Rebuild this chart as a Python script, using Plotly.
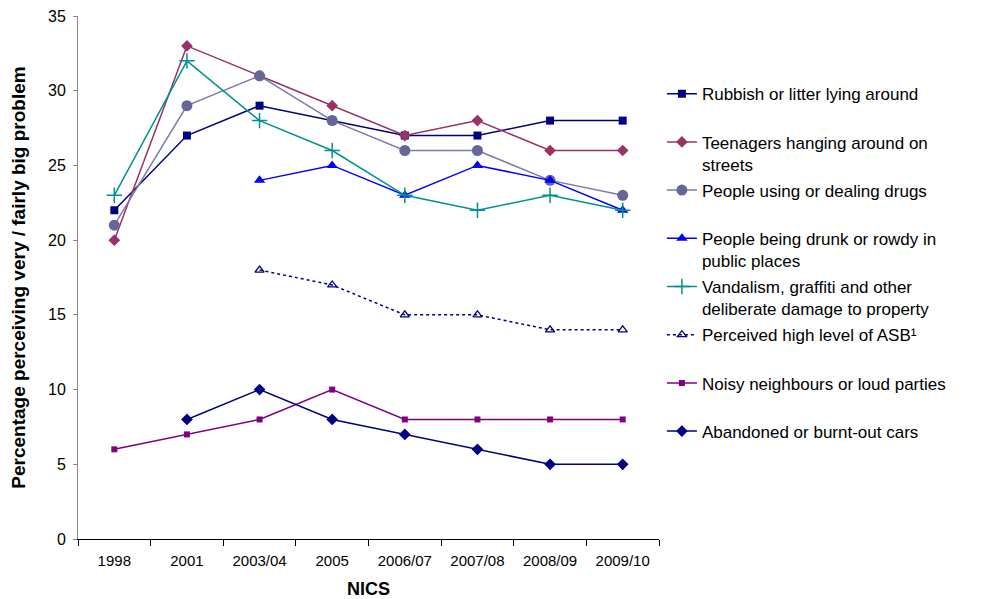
import plotly.graph_objects as go

categories = ["1998", "2001", "2003/04", "2005", "2006/07", "2007/08", "2008/09", "2009/10"]

rubbish = [22, 27, 29, 28, 27, 27, 28, 28]
teenagers = [20, 33, 31, 29, 27, 28, 26, 26]
drugs = [21, 29, 31, 28, 26, 26, 24, 23]
drunk = [None, None, 24, 25, 23, 25, 24, 22]
vandalism = [23, 32, 28, 26, 23, 22, 23, 22]
asb = [None, None, 18, 17, 15, 15, 14, 14]
noisy = [6, 7, 8, 10, 8, 8, 8, 8]
cars = [None, 8, 10, 8, 7, 6, 5, 5]

names = [
    "Rubbish or litter lying around<br> ",
    "Teenagers hanging around on<br>streets",
    "People using or dealing drugs<br> ",
    "People being drunk or rowdy in<br>public places",
    "Vandalism, graffiti and other<br>deliberate damage to property",
    "Perceived high level of ASB\u00b9<br> ",
    "Noisy neighbours or loud parties<br> ",
    "Abandoned or burnt-out cars<br> ",
]

fig = go.Figure()

def add(i, y, lcolor, symbol, mcolor, size, dash="solid", mline=None):
    marker = dict(symbol=symbol, color=mcolor, size=size)
    if mline:
        marker["line"] = mline
    fig.add_trace(go.Scatter(
        x=categories, y=y, name=names[i], legendgroup="g%d" % i,
        mode="lines+markers",
        line=dict(color=lcolor, width=1.5, dash=dash),
        marker=marker,
    ))

add(0, rubbish, "#000080", "square", "#000080", 8)
add(1, teenagers, "#993366", "diamond", "#993366", 9)
add(2, drugs, "#7A7AAE", "circle", "#666699", 11)
add(3, drunk, "#0000FF", "triangle-up", "#0000FF", 10)
add(4, vandalism, "#009090", "cross-thin-open", "#009090", 11,
    mline=dict(color="#009090", width=1.5))
add(5, asb, "#000080", "triangle-up-open", "#000080", 8, dash="dot",
    mline=dict(color="#000080", width=1.3))
add(6, noisy, "#800080", "square", "#800080", 6)
add(7, cars, "#000080", "diamond", "#000080", 9)

FONT = "Liberation Sans, Arial, sans-serif"

fig.update_layout(
    width=980, height=591,
    margin=dict(l=70, r=329, t=8, b=60, autoexpand=False),
    paper_bgcolor="white", plot_bgcolor="white",
    font=dict(family=FONT, color="#000000", size=16),
    showlegend=True,
    legend=dict(
        x=1.005, xanchor="left", y=0.885, yanchor="top",
        font=dict(size=17), valign="top",
        bgcolor="rgba(0,0,0,0)", borderwidth=0,
        tracegroupgap=1,
    ),
    xaxis=dict(
        type="category", range=[-0.5, 7.5], automargin=False,
        showline=True, linecolor="#000000", linewidth=1,
        ticks="outside", tickson="boundaries", ticklen=6, tickcolor="#000000",
        ticklabelstandoff=8,
        showgrid=False, zeroline=False,
        title=dict(text="<b>NICS</b>", font=dict(size=18), standoff=16),
        tickfont=dict(size=15),
    ),
    yaxis=dict(
        range=[0, 35], dtick=5, automargin=False,
        showline=True, linecolor="#868686", linewidth=1,
        ticks="outside", ticklen=4, tickcolor="#868686",
        ticklabelstandoff=4, ticklabeloverflow="allow",
        showgrid=False, zeroline=False,
        title=dict(text="<b>Percentage perceiving very / fairly big problem</b>",
                   font=dict(size=19), standoff=22),
        tickfont=dict(size=16),
    ),
)

fig.write_html("out.html")
